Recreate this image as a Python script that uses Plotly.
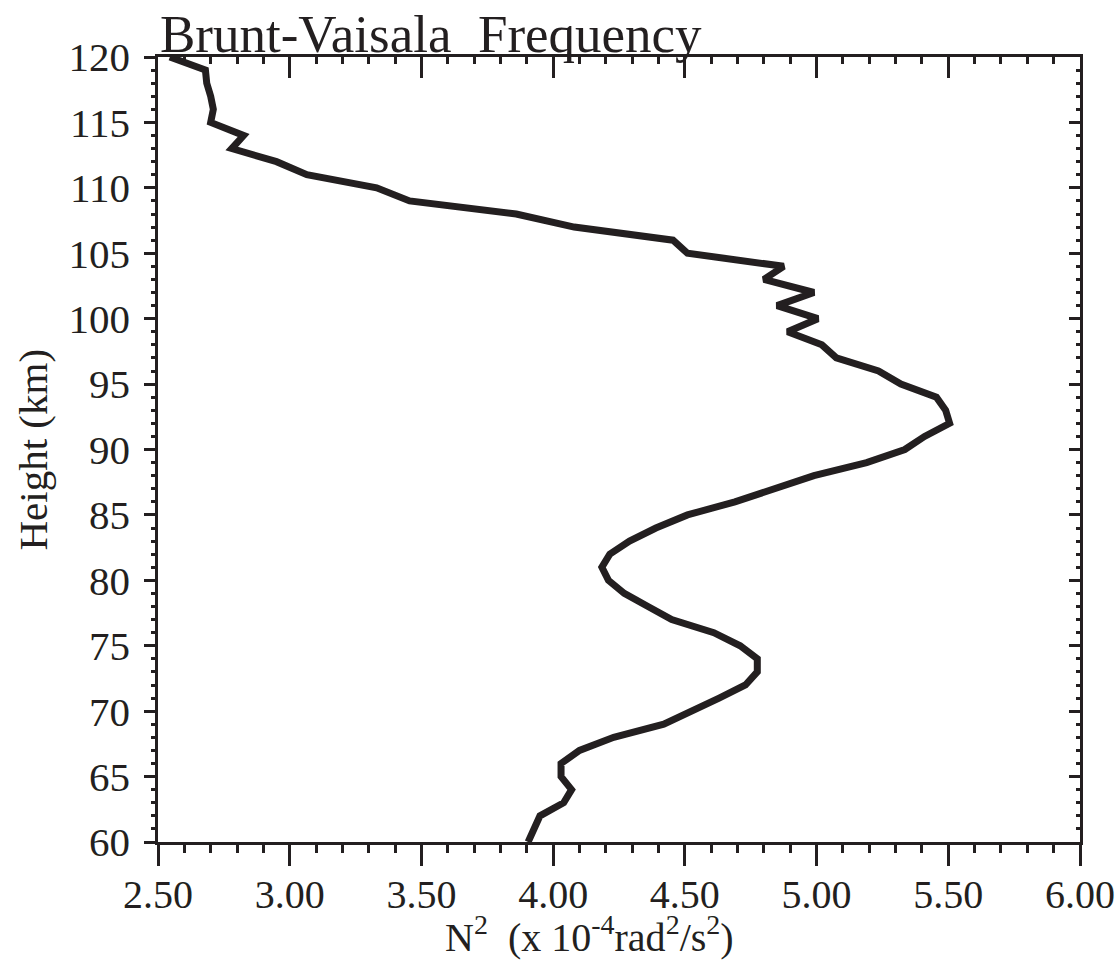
import plotly.graph_objects as go

heights = list(range(60, 121))
n2 = [3.905, 3.93, 3.95, 4.04, 4.07, 4.03, 4.03, 4.10, 4.23, 4.42,
      4.53, 4.63, 4.73, 4.775, 4.775, 4.71, 4.61, 4.45, 4.36, 4.27,
      4.21, 4.185, 4.215, 4.29, 4.39, 4.51, 4.69, 4.84, 4.99, 5.19,
      5.335, 5.41, 5.505, 5.49, 5.455, 5.32, 5.235, 5.075, 5.02, 4.89,
      5.005, 4.85, 4.99, 4.80, 4.875, 4.51, 4.455, 4.08, 3.86, 3.455,
      3.33, 3.065, 2.95, 2.78, 2.825, 2.70, 2.71, 2.70, 2.685, 2.68,
      2.545]

x_ticks = [2.5, 3.0, 3.5, 4.0, 4.5, 5.0, 5.5, 6.0]
x_ticktext = ["2.50", "3.00", "3.50", "4.00", "4.50", "5.00", "5.50", "6.00"]
y_ticks = [60, 65, 70, 75, 80, 85, 90, 95, 100, 105, 110, 115, 120]

INK = "#231f20"
FONT = "Liberation Serif"
NB = "\u00a0"

fig = go.Figure()
fig.add_trace(go.Scatter(x=n2, y=heights, mode="lines",
                         line=dict(color=INK, width=7), hoverinfo="skip",
                         showlegend=False))
# invisible trace to anchor the mirrored (top/right) axes
fig.add_trace(go.Scatter(x=n2, y=heights, mode="lines", xaxis="x2", yaxis="y2",
                         line=dict(color="rgba(0,0,0,0)", width=0),
                         hoverinfo="skip", showlegend=False))

axis_common = dict(showgrid=False, zeroline=False, showline=True,
                   linecolor=INK, linewidth=2.5, tickcolor=INK, tickwidth=2.5)

x_title = ("N<sup>2</sup>" + NB + NB + "(x" + NB + "10<sup>-4</sup>rad<sup>2</sup>"
           "/s<sup>2</sup>)")

fig.update_layout(
    width=1120, height=961,
    margin=dict(l=158, r=40, t=57, b=119, autoexpand=False),
    paper_bgcolor="white", plot_bgcolor="white",
    font=dict(family=FONT, color=INK, size=40),
    xaxis=dict(range=[2.5, 6.0], tickvals=x_ticks, ticktext=x_ticktext,
               ticks="outside", ticklen=21, ticklabelstandoff=-6,
               tickfont=dict(size=40, family=FONT, color=INK),
               minor=dict(dtick=0.1, ticks="outside", ticklen=8,
                          tickcolor=INK, tickwidth=2.5),
               **axis_common),
    yaxis=dict(range=[60, 120], tickvals=y_ticks,
               ticks="outside", ticklen=11, ticklabelstandoff=6,
               tickfont=dict(size=41, family=FONT, color=INK),
               minor=dict(dtick=1, ticks="outside", ticklen=4,
                          tickcolor=INK, tickwidth=2.5),
               **axis_common),
    xaxis2=dict(range=[2.5, 6.0], overlaying="x", side="top", anchor="y",
                tickvals=x_ticks, ticks="inside", ticklen=21,
                showticklabels=False,
                minor=dict(dtick=0.1, ticks="inside", ticklen=7,
                           tickcolor=INK, tickwidth=2.5),
                **axis_common),
    yaxis2=dict(range=[60, 120], overlaying="y", side="right", anchor="x",
                tickvals=y_ticks, ticks="inside", ticklen=11,
                showticklabels=False,
                minor=dict(dtick=1, ticks="inside", ticklen=4,
                           tickcolor=INK, tickwidth=2.5),
                **axis_common),
    annotations=[
        dict(text="Brunt-Vaisala  Frequency", xref="paper", yref="paper",
             x=0, y=1, xanchor="left", yanchor="bottom", yshift=-8,
             showarrow=False, font=dict(size=53, family=FONT, color=INK)),
        dict(text=x_title,
             xref="paper", yref="paper", x=(589 - 158) / 922, y=(842 - 962) / 785,
             xanchor="center", yanchor="bottom", showarrow=False,
             font=dict(size=40, family=FONT, color=INK)),
        dict(text="Height (km)", xref="paper", yref="paper",
             x=(32 - 158) / 922, y=0.5, xanchor="center", yanchor="middle",
             textangle=-90, showarrow=False,
             font=dict(size=41, family=FONT, color=INK)),
    ],
)

fig.write_html("out.html")
